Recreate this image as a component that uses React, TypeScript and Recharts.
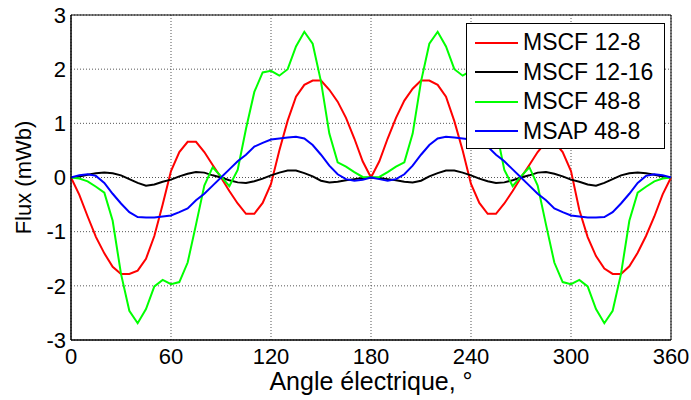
/**
 * Flux vs electrical angle for four machine variants.
 */

import React from 'react';
import {
  LineChart, Line, XAxis, YAxis, CartesianGrid, ReferenceArea, Legend,
} from 'recharts';

const FONT = '"Liberation Sans", Arial, Helvetica, sans-serif';

const angles = [
  0, 5, 10, 15, 20, 25, 30, 35, 40, 45, 50, 55, 60, 65, 70, 75, 80, 85, 90,
  95, 100, 105, 110, 115, 120, 125, 130, 135, 140, 145, 150, 155, 160, 165, 170, 175, 180,
  185, 190, 195, 200, 205, 210, 215, 220, 225, 230, 235, 240, 245, 250, 255, 260, 265, 270,
  275, 280, 285, 290, 295, 300, 305, 310, 315, 320, 325, 330, 335, 340, 345, 350, 355, 360,
];

const xTicks = [0, 60, 120, 180, 240, 300, 360];
const yTicks = [-3, -2, -1, 0, 1, 2, 3];

// MSCF 12-8 (mWb)
const mscf128 = [
  0, -0.32, -0.72, -1.1, -1.4, -1.65, -1.78, -1.78, -1.72, -1.5, -1.08, -0.5, 0.12, 0.47, 0.66, 0.66, 0.47, 0.23, 0,
  -0.25, -0.48, -0.67, -0.67, -0.47, -0.12, 0.5, 1.05, 1.49, 1.71, 1.79, 1.79, 1.62, 1.4, 1.1, 0.72, 0.3, 0,
  0.3, 0.72, 1.1, 1.42, 1.64, 1.79, 1.79, 1.71, 1.49, 1.04, 0.5, -0.12, -0.47, -0.67, -0.67, -0.48, -0.25, 0,
  0.23, 0.47, 0.66, 0.66, 0.47, 0.12, -0.6, -1.1, -1.45, -1.68, -1.78, -1.78, -1.64, -1.39, -1.08, -0.72, -0.31, 0,
];

// MSCF 12-16 (mWb)
const mscf1216 = [
  0, 0.02, 0.05, 0.08, 0.09, 0.08, 0.04, -0.03, -0.1, -0.15, -0.13, -0.08, -0.04, 0.02, 0.07, 0.1, 0.09, 0.04, 0,
  -0.05, -0.09, -0.1, -0.07, -0.02, 0.04, 0.09, 0.13, 0.13, 0.08, 0.02, -0.06, -0.09, -0.08, -0.05, -0.03, -0.01, 0,
  -0.01, -0.03, -0.05, -0.08, -0.09, -0.06, 0.02, 0.08, 0.13, 0.13, 0.09, 0.04, -0.02, -0.07, -0.1, -0.09, -0.05, 0,
  0.04, 0.09, 0.1, 0.07, 0.02, -0.04, -0.08, -0.13, -0.15, -0.1, -0.03, 0.04, 0.08, 0.09, 0.08, 0.05, 0.02, 0,
];

// MSCF 48-8 (mWb)
const mscf488 = [
  0, -0.02, -0.07, -0.17, -0.28, -0.8, -1.78, -2.46, -2.69, -2.43, -2.01, -1.89, -1.97, -1.93, -1.57, -0.87, -0.15, 0.19, 0.02,
  -0.16, 0.14, 0.9, 1.58, 1.94, 1.97, 1.88, 2.0, 2.42, 2.69, 2.47, 1.77, 0.81, 0.28, 0.2, 0.1, 0.01, 0,
  0.01, 0.1, 0.2, 0.28, 0.81, 1.77, 2.47, 2.69, 2.42, 2.0, 1.88, 1.97, 1.94, 1.58, 0.9, 0.14, -0.16, 0.02,
  0.19, -0.15, -0.87, -1.57, -1.93, -1.97, -1.89, -2.01, -2.43, -2.69, -2.46, -1.78, -0.8, -0.28, -0.17, -0.07, -0.02, 0,
];

// MSAP 48-8 (mWb)
const msap488 = [
  0, 0.04, 0.06, 0.03, -0.1, -0.3, -0.48, -0.64, -0.73, -0.74, -0.74, -0.72, -0.7, -0.64, -0.57, -0.42, -0.3, -0.15, 0,
  0.15, 0.3, 0.42, 0.57, 0.64, 0.7, 0.72, 0.74, 0.75, 0.72, 0.6, 0.42, 0.22, 0.06, -0.03, -0.06, -0.04, 0,
  -0.03, -0.06, -0.03, 0.06, 0.22, 0.42, 0.6, 0.72, 0.75, 0.74, 0.72, 0.7, 0.64, 0.57, 0.42, 0.3, 0.15, 0,
  -0.15, -0.3, -0.42, -0.57, -0.64, -0.7, -0.72, -0.74, -0.74, -0.73, -0.64, -0.48, -0.3, -0.1, 0.03, 0.06, 0.04, 0,
];

const series = [
  { key: 'mscf128', name: 'MSCF 12-8', color: '#ff0000' },
  { key: 'mscf1216', name: 'MSCF 12-16', color: '#000000' },
  { key: 'mscf488', name: 'MSCF 48-8', color: '#00ff00' },
  { key: 'msap488', name: 'MSAP 48-8', color: '#0000ff' },
];

const rows = angles.map((angle, i) => ({
  angle,
  mscf128: mscf128[i],
  mscf1216: mscf1216[i],
  mscf488: mscf488[i],
  msap488: msap488[i],
}));

const tickStyle = { fontSize: 22, fill: '#000', fontFamily: FONT };

// legend keeps the series order (recharts sorts by name otherwise)
const FluxLegend = ({ payload }: any) => {
  const items = series.map((s) => (payload || []).find((p: any) => p.value === s.name) || { value: s.name, color: s.color });
  return (
    <div
      style={{
        boxSizing: 'border-box',
        width: 199,
        height: 126,
        border: '1px solid #000',
        background: '#fff',
        padding: '4px 0 0 8px',
        fontFamily: FONT,
      }}
    >
      {items.map((p: any) => (
        <div key={p.value} style={{ display: 'flex', alignItems: 'center', height: 29.5 }}>
          <span style={{ display: 'inline-block', width: 43, height: 2, background: p.color, marginRight: 5 }} />
          <span style={{ fontSize: 23, color: '#000', lineHeight: 1 }}>{p.value}</span>
        </div>
      ))}
    </div>
  );
};

const YTitle = (props: any) => {
  const vb = props.viewBox || { x: 0, y: 15, width: 71, height: 325 };
  const cx = vb.x + 23;
  const cy = vb.y + vb.height / 2;
  return (
    <text
      x={cx}
      y={cy}
      transform={`rotate(-90 ${cx} ${cy})`}
      textAnchor="middle"
      dominantBaseline="central"
      fontSize={22}
      fontFamily={FONT}
      fill="#000"
    >
      Flux (mWb)
    </text>
  );
};

export default function App() {
  return (
    <div style={{ position: 'absolute', left: 0, top: 0, width: 691, height: 400, background: '#fff' }}>
      <LineChart
        width={691}
        height={400}
        data={rows}
        margin={{ top: 15, right: 20, left: 0, bottom: 0 }}
        style={{ fontFamily: FONT }}
      >
        <CartesianGrid stroke="#555" strokeDasharray="1 2" />
        <XAxis
          dataKey="angle"
          type="number"
          domain={[0, 360]}
          ticks={xTicks}
          interval={0}
          height={60}
          tickSize={0}
          tickMargin={8}
          axisLine={{ stroke: '#000' }}
          tickLine={false}
          tick={tickStyle}
          label={{
            value: 'Angle électrique, °',
            position: 'insideBottom',
            offset: 10,
            fontSize: 25,
            fill: '#000',
            fontFamily: FONT,
          }}
        />
        <YAxis
          type="number"
          domain={[-3, 3]}
          ticks={yTicks}
          interval={0}
          width={71}
          tickSize={0}
          tickMargin={5}
          axisLine={{ stroke: '#000' }}
          tickLine={false}
          tick={tickStyle}
          label={{ content: (p: any) => <YTitle {...p} /> }}
        />
        <ReferenceArea x1={0} x2={360} y1={-3} y2={3} fill="none" stroke="#000" strokeWidth={1} />
        {series.map((s) => (
          <Line
            key={s.key}
            type="linear"
            dataKey={s.key}
            name={s.name}
            stroke={s.color}
            strokeWidth={2}
            dot={false}
            activeDot={false}
            isAnimationActive={false}
          />
        ))}
        <Legend
          layout="vertical"
          align="center"
          verticalAlign="middle"
          itemSorter={null as any}
          content={<FluxLegend />}
          wrapperStyle={{ left: 466, top: 23, width: 199, height: 126 }}
        />
      </LineChart>
    </div>
  );
}
